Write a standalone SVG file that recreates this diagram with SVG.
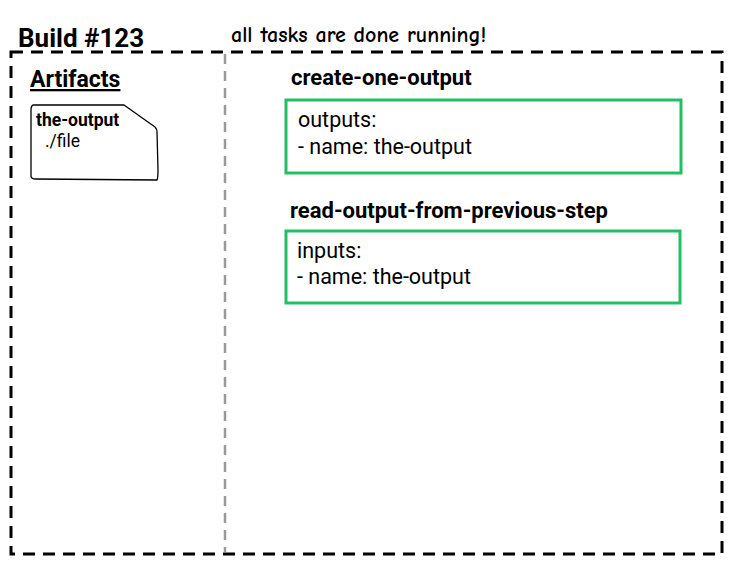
<svg xmlns="http://www.w3.org/2000/svg" width="732" height="566" viewBox="0 0 732 566">
<style>
.bold{font-family:Roboto,"Liberation Sans",sans-serif;font-weight:bold;fill:#000}
.reg{font-family:Roboto,"Liberation Sans",sans-serif;fill:#000}
.hand{font-family:"Comic Neue","Comic Sans MS","DejaVu Sans",sans-serif;font-weight:bold;fill:#000}
.task{fill:#fff;stroke:#21c063;stroke-width:3}
</style>
<rect width="732" height="566" fill="#fff"/>
<g id="build">
<rect x="11" y="52" width="711" height="502" fill="none" stroke="#000" stroke-width="3" stroke-dasharray="12 8"/>
<text class="bold" x="18" y="47" font-size="26">Build #123</text>
<text class="hand" x="231" y="42" font-size="22">all tasks are done running!</text>
</g>
<g id="divider">
<line x1="225" y1="54" x2="225" y2="552" stroke="#999" stroke-width="2.5" stroke-dasharray="10 7"/>
</g>
<g id="artifacts">
<text class="bold" x="30" y="87" font-size="23" text-decoration="underline">Artifacts</text>
<path d="M34,105 Q31,105 31,110 L31,176 Q31,179 36,179 L157,180 Q158,178 158,170 L157,132 Q157,129 155,127 L124,105 Z" fill="#fff" stroke="#000" stroke-width="1.3" stroke-linejoin="round"/>
<text class="bold" x="36" y="126" font-size="17.5">the-output</text>
<text class="reg" x="45" y="147" font-size="17.5">./file</text>
</g>
<g id="create-one-output">
<text class="bold" x="291" y="85" font-size="22">create-one-output</text>
<rect class="task" x="286" y="100" width="395" height="73"/>
<text class="reg" x="298" y="127" font-size="21.5">outputs:</text>
<text class="reg" x="298" y="154" font-size="21.5">- name: the-output</text>
</g>
<g id="read-output-from-previous-step">
<text class="bold" x="290" y="218" font-size="22">read-output-from-previous-step</text>
<rect class="task" x="286" y="231" width="394" height="72"/>
<text class="reg" x="297" y="258" font-size="21.5">inputs:</text>
<text class="reg" x="297" y="284" font-size="21.5">- name: the-output</text>
</g>
<g id="connectors"></g>
</svg>
